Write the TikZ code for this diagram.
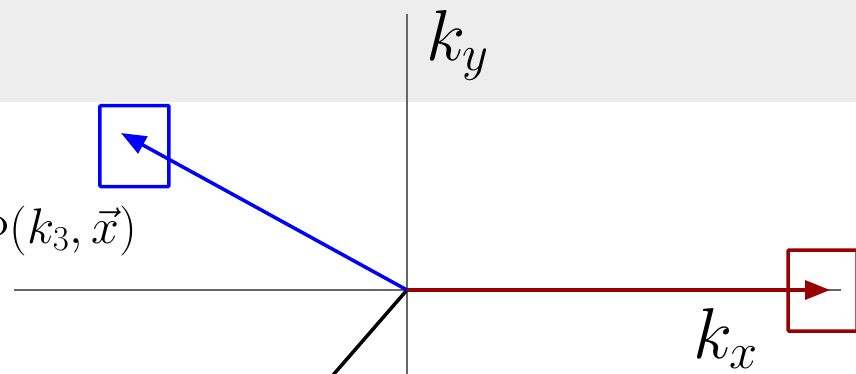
\RequirePackage{fix-cm}
\documentclass[tikz,border=0pt]{standalone}
\usepackage{amsmath}
\usetikzlibrary{positioning,arrows.meta}

\definecolor{vecred}{HTML}{990000}
\definecolor{bandgray}{HTML}{EDEDED}

\begin{document}
\begin{tikzpicture}[x=1pt, y=1pt,
  ax/.style={draw=black!60, line width=1.2pt},
  vec/.style={draw=#1, line width=3.5pt, -{Triangle[length=25pt, width=19pt]}},
  bx/.style={draw=#1, line width=3.5pt, rounded corners=1pt,
             minimum width=69pt, minimum height=81pt, inner sep=0pt},
  lbl/.style={font=\fontsize{72}{80}\selectfont, inner sep=0pt},
  slbl/.style={font=\fontsize{50}{58}\selectfont, inner sep=0pt},
]
\useasboundingbox (-407,-83) rectangle (449,290);
\clip (-407,-83) rectangle (449,290);

% background band
\fill[bandgray] (-407,188) rectangle (449,290);

% axes
\coordinate (O) at (0,0);
\coordinate (xl) at (-393,0);
\coordinate (xr) at (434,0);
\coordinate (yb) at (0,-90);
\coordinate (yt) at (0,276);
\draw[ax] (xl) -- (xr);
\draw[ax] (yb) -- (yt);

\node[lbl, anchor=base west] (ky) at (19,230) {$k_y$};
\node[lbl, anchor=base west] (kx) at (286,-68) {$k_x$};

% vectors
\coordinate (kb) at (-286,157);
\coordinate (kr) at (423,0);
\coordinate (kc) at (-100,-115);
\draw[vec=black, -] (O) -- (kc);
\draw[vec=blue] (O) -- (kb);
\draw[vec=vecred] (O) -- (kr);

% boxes
\node[bx=blue]   (B1) at (-272.5,144) {};
\node[bx=vecred] (B2) at (415.5,-0.5) {};

\node[slbl, anchor=base east] (phi) at (-270,47) {$\Phi(k_3,\vec{x})$};
\end{tikzpicture}
\end{document}
